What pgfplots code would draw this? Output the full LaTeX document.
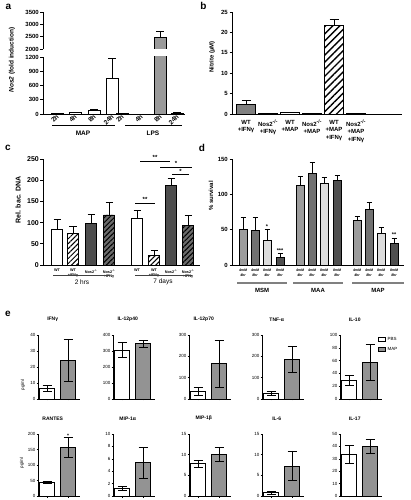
\documentclass[border=0pt]{standalone}
\usepackage{fontspec}
\setmainfont{Liberation Sans}
\usepackage{pgfplots}
\pgfplotsset{compat=1.18}
\usetikzlibrary{patterns,patterns.meta}
\newcommand{\fs}[1]{\fontsize{#1}{#1}\selectfont}
\definecolor{lpsgray}{HTML}{9A9A9A}
\definecolor{bgray}{HTML}{808080}
\definecolor{cdark}{HTML}{4D4D4D}
\definecolor{cdarkh}{HTML}{6A6A6A}
\definecolor{dA}{HTML}{9C9C9C}
\definecolor{dB}{HTML}{717171}
\definecolor{dC}{HTML}{DCDCDC}
\definecolor{dD}{HTML}{4F4F4F}
\definecolor{egray}{HTML}{939393}
\pgfplotsset{
  base/.style={scale only axis, anchor=south west, clip mode=individual,
    axis lines=left, axis line style={-, line width=0.9pt, black},
    every tick/.style={black, line width=0.8pt},
    tick align=outside, major tick length=2.5pt,
    /pgf/number format/assume math mode=true,
    /pgf/number format/1000 sep={}, scaled ticks=false,
    yticklabel style={font=\bfseries\fs{6}, inner sep=1.5pt}},
  bb/.style={ybar, bar shift=0pt, draw=black, line width=0.9pt},
  ep/.style={/pgfplots/error bars/y dir=plus, /pgfplots/error bars/y explicit,
    /pgfplots/error bars/error bar style={line width=0.9pt, black},
    /pgfplots/error bars/error mark options={rotate=90, line width=0.9pt, black, mark size=#1}},
  ebw/.style={ybar, bar shift=0pt, draw=black, line width=0.6pt, bar width=15,
    /pgfplots/error bars/y dir=both, /pgfplots/error bars/y explicit,
    /pgfplots/error bars/error bar style={line width=0.6pt, black},
    /pgfplots/error bars/error mark options={rotate=90, line width=0.6pt, black, mark size=4.5pt}},
  eax/.style={base, width=42pt, axis line style={-, line width=0.5pt, black},
    every tick/.style={black, line width=0.5pt}, major tick length=1.5pt,
    yticklabel style={font=\fs{4.5}, inner sep=1pt}, xticklabels={,,}, ymin=0,
    title style={at={(0.35,1)}, anchor=south, yshift=3.5pt, font=\bfseries\fs{5}}},
}
\begin{document}
\begin{tikzpicture}[x=1pt,y=1pt]
\useasboundingbox (0,0) rectangle (410,500);
% ---------------- panel a ----------------
\begin{axis}[base, at={(43pt,386pt)}, width=142pt, height=57pt,
  xmin=43, xmax=185, ymin=0, ymax=1200, ytick={0,300,600,900,1200},
  xtick={57,75,94,112,122,141,160,177},
  xticklabels={2h,4h,8h,24h,2h,4h,8h,24h},
  xtick style={draw=none},
  xticklabel style={rotate=45, anchor=east, inner sep=1pt, xshift=2pt, font=\bfseries\fs{6.5}}]
\addplot[bb, bar width=12, fill=white, ep=4pt] coordinates {(57,6) +- (0,5) (75,22) +- (0,10) (94,70) +- (0,28) (112,750) +- (0,420)};
\addplot[bb, bar width=12, fill=lpsgray] coordinates {(122,3)};
\addplot[bb, bar width=12, fill=lpsgray, ep=4pt] coordinates {(160,2450) +- (0,250) (177,15) +- (0,8)};
\end{axis}
\begin{axis}[base, at={(43pt,451pt)}, width=142pt, height=37pt,
  xmin=43, xmax=185, ymin=2000, ymax=3500, ytick={2000,2500,3000,3500},
  axis x line=none, xtick=\empty]
\addplot[bb, bar width=12, fill=lpsgray, ep=4pt] coordinates {(160,2450) +- (0,250)};
\end{axis}
\node[font=\bfseries\fs{10}] at (8.5,493) {a};
\node[rotate=90, font=\bfseries\fs{6.5}] at (12,440) {\textit{Nos2} (fold induction)};
\draw[line width=0.8pt] (52,375) -- (115,375);
\draw[line width=0.8pt] (125,375) -- (182,375);
\node[font=\bfseries\fs{6.5}] at (83,367) {MAP};
\node[font=\bfseries\fs{6.5}] at (153,367) {LPS};
% ---------------- panel b ----------------
\begin{axis}[base, at={(232pt,386pt)}, width=170pt, height=102pt,
  xmin=232, xmax=402, ymin=0, ymax=25, ytick={0,5,10,15,20,25},
  xtick={246,268,290,312,334,356}, xtick style={draw=none},
  xticklabels={{WT\\+IFNγ},{Nos2\textsuperscript{-/-}\\+IFNγ},{WT\\+MAP},{Nos2\textsuperscript{-/-}\\+MAP},{WT\\+MAP\\+IFNγ},{Nos2\textsuperscript{-/-}\\+MAP\\+IFNγ}},
  xticklabel style={align=center, anchor=north, font=\bfseries\fontsize{6}{7.5}\selectfont}]
\addplot[bb, bar width=19, fill=bgray, ep=4.5pt] coordinates {(246,2.3) +- (0,0.9)};
\addplot[bb, bar width=19, fill=white] coordinates {(268,0.06) (312,0.05)};
\addplot[bb, bar width=19, fill=white, ep=4.5pt] coordinates {(290,0.3) +- (0,0.15) (356,0.15) +- (0,0.08)};
\addplot[bb, bar width=19, fill=white, postaction={pattern={Lines[angle=45,distance=5pt,line width=1.4pt]}}, ep=4.5pt] coordinates {(334,21.6) +- (0,1.6)};
\end{axis}
\node[font=\bfseries\fs{10}] at (203.5,494) {b};
\node[rotate=90, font=\bfseries\fs{6}] at (212,443) {Nitrite (µM)};
% ---------------- panel c ----------------
\begin{axis}[base, at={(43pt,235pt)}, width=157pt, height=106pt,
  xmin=43, xmax=200, ymin=0, ymax=250, ytick={0,50,100,150,200,250},
  yticklabel style={font=\bfseries\fs{7}},
  xtick={57,73,91,109,137,154,171,188}, xtick style={draw=none},
  xticklabels={{WT},{WT\\+IFNγ},{Nos2\textsuperscript{-/-}},{Nos2\textsuperscript{-/-}\\+IFNγ},{WT},{WT\\+IFNγ},{Nos2\textsuperscript{-/-}},{Nos2\textsuperscript{-/-}\\+IFNγ}},
  xticklabel style={align=center, anchor=north, inner sep=1.5pt, font=\bfseries\fontsize{3.8}{4.6}\selectfont}]
\addplot[bb, bar width=11, fill=white, ep=3.5pt] coordinates {(57,85) +- (0,22) (137,109) +- (0,19)};
\addplot[bb, bar width=11, fill=white, postaction={pattern={Lines[angle=45,distance=3.5pt,line width=1pt]}}, ep=3.5pt] coordinates {(73,75) +- (0,16) (154,22) +- (0,13)};
\addplot[bb, bar width=11, fill=cdark, ep=3.5pt] coordinates {(91,98) +- (0,22) (171,187) +- (0,18)};
\addplot[bb, bar width=11, fill=cdarkh, postaction={pattern={Lines[angle=45,distance=3.5pt,line width=1pt]}}, ep=3.5pt] coordinates {(109,118) +- (0,29) (188,94) +- (0,23)};
\draw[line width=0.7pt] (axis cs:135,146) -- (axis cs:155,146) node[midway, above, inner sep=1pt, font=\bfseries\fs{6}] {**};
\draw[line width=0.7pt] (axis cs:140,245) -- (axis cs:170,245) node[midway, above, inner sep=1pt, font=\bfseries\fs{6}] {**};
\draw[line width=0.7pt] (axis cs:160,231) -- (axis cs:192,231) node[midway, above, inner sep=1pt, font=\bfseries\fs{6}] {*};
\draw[line width=0.7pt] (axis cs:172,213) -- (axis cs:189,213) node[midway, above, inner sep=1pt, font=\bfseries\fs{6}] {*};
\end{axis}
\node[font=\bfseries\fs{10}] at (8,352) {c};
\node[rotate=90, font=\bfseries\fs{7}] at (18,300) {Rel. bac. DNA};
\draw[line width=0.8pt, black!75] (53,225) -- (110,225);
\draw[line width=0.8pt, black!75] (135,225) -- (192,225);
\node[font=\fs{6.5}] at (82,218) {2 hrs};
\node[font=\fs{6.5}] at (163,218) {7 days};
% ---------------- panel d ----------------
\begin{axis}[base, at={(232pt,235pt)}, width=172pt, height=106pt,
  xmin=232, xmax=404, ymin=0, ymax=150, ytick={0,50,100,150},
  xtick={243,255,267,280,300,312,324,337,357,369,381,394}, xtick style={draw=none},
  xticklabels={{4mM\\4hr},{4mM\\8hr},{8mM\\4hr},{8mM\\8hr},{4mM\\4hr},{4mM\\8hr},{8mM\\4hr},{8mM\\8hr},{4mM\\4hr},{4mM\\8hr},{8mM\\4hr},{8mM\\8hr}},
  xticklabel style={align=center, anchor=north, inner sep=1.5pt, font=\bfseries\itshape\fontsize{3.5}{4.5}\selectfont}]
\addplot[bb, bar width=8, fill=dA, ep=2.5pt] coordinates {(243,50) +- (0,17) (300,113) +- (0,12) (357,63) +- (0,6)};
\addplot[bb, bar width=8, fill=dB, ep=2.5pt] coordinates {(255,49) +- (0,18) (312,130) +- (0,15) (369,78) +- (0,10)};
\addplot[bb, bar width=8, fill=dC, ep=2.5pt] coordinates {(267,35) +- (0,15) (324,116) +- (0,8) (381,44) +- (0,9)};
\addplot[bb, bar width=8, fill=dD, ep=2.5pt] coordinates {(280,10) +- (0,6) (337,119) +- (0,8) (394,30) +- (0,8)};
\node[anchor=south, inner sep=1pt, font=\bfseries\fs{5.5}] at (axis cs:267,50) {*};
\node[anchor=south, inner sep=1pt, font=\bfseries\fs{5.5}] at (axis cs:280,16) {***};
\node[anchor=south, inner sep=1pt, font=\bfseries\fs{5.5}] at (axis cs:394,38) {**};
\end{axis}
\node[font=\bfseries\fs{10}] at (202,352) {d};
\node[rotate=90, font=\bfseries\fs{6}] at (211,304) {\% survival};
\draw[line width=1.5pt, black!50] (237,217) -- (287,217);
\draw[line width=1.5pt, black!50] (293,217) -- (343,217);
\draw[line width=1.5pt, black!50] (352,217) -- (404,217);
\node[font=\bfseries\fs{6}] at (262,210) {MSM};
\node[font=\bfseries\fs{6}] at (318,210) {MAA};
\node[font=\bfseries\fs{6}] at (378,210) {MAP};
% ---------------- panel e ----------------
\node[font=\bfseries\fs{10}] at (8,186) {e};
% row 1
\begin{axis}[eax, at={(38pt,101pt)}, height=64pt, xmin=38, xmax=80, ymax=40, ytick={0,10,20,30,40}, xtick={47,68}, title={IFNγ}]
\addplot[ebw, fill=white] coordinates {(47,6.5) +- (0,2)};
\addplot[ebw, fill=egray] coordinates {(68,24) +- (0,13)};
\end{axis}
\begin{axis}[eax, at={(113pt,101pt)}, height=64pt, xmin=113, xmax=155, ymax=400, ytick={0,100,200,300,400}, xtick={122,143}, title={IL-12p40}]
\addplot[ebw, fill=white] coordinates {(122,305) +- (0,47)};
\addplot[ebw, fill=egray] coordinates {(143,345) +- (0,22)};
\end{axis}
\begin{axis}[eax, at={(189pt,101pt)}, height=64pt, xmin=189, xmax=231, ymax=300, ytick={0,100,200,300}, xtick={198,219}, title={IL-12p70}]
\addplot[ebw, fill=white] coordinates {(198,37) +- (0,19)};
\addplot[ebw, fill=egray] coordinates {(219,165) +- (0,110)};
\end{axis}
\begin{axis}[eax, at={(262pt,101pt)}, height=64pt, xmin=262, xmax=304, ymax=300, ytick={0,100,200,300}, xtick={271,292}, title={TNF-α}]
\addplot[ebw, fill=white] coordinates {(271,28) +- (0,9)};
\addplot[ebw, fill=egray] coordinates {(292,185) +- (0,62)};
\end{axis}
\begin{axis}[eax, at={(340pt,101pt)}, height=64pt, xmin=340, xmax=382, ymax=100, ytick={0,20,40,60,80,100}, xtick={349,370}, title={IL-10},
  legend style={at={(0.9,1.0)}, anchor=north west, draw=none, fill=none, inner sep=0pt, font=\fs{4.5}, row sep=1.5pt},
  legend cell align=left,
  legend image code/.code={\draw[#1, line width=0.6pt] (0pt,-2pt) rectangle (7pt,2pt);}]
\addplot[ebw, fill=white] coordinates {(349,29) +- (0,8)};
\addlegendentry{PBS}
\addplot[ebw, fill=egray] coordinates {(370,57) +- (0,28)};
\addlegendentry{MAP}
\end{axis}
\node[rotate=90, font=\fs{4.5}] at (23,115) {pg/ml};
% row 2
\begin{axis}[eax, at={(38pt,4pt)}, height=62pt, xmin=38, xmax=80, ymax=200, ytick={0,50,100,150,200}, xtick={47,68}, title={RANTES}]
\addplot[ebw, fill=white] coordinates {(47,45) +- (0,2.5)};
\addplot[ebw, fill=egray] coordinates {(68,157) +- (0,31)};
\node[anchor=south, inner sep=0.5pt, font=\bfseries\fs{5}] at (axis cs:68,188) {*};
\end{axis}
\begin{axis}[eax, at={(113pt,4pt)}, height=62pt, xmin=113, xmax=155, ymax=10, ytick={0,2,4,6,8,10}, xtick={122,143}, title={MIP-1α}]
\addplot[ebw, fill=white] coordinates {(122,1.2) +- (0,0.3)};
\addplot[ebw, fill=egray] coordinates {(143,5.4) +- (0,2.5)};
\end{axis}
\begin{axis}[eax, at={(189pt,4pt)}, height=62pt, xmin=189, xmax=231, ymax=15, ytick={0,5,10,15}, xtick={198,219}, title={MIP-1β}]
\addplot[ebw, fill=white] coordinates {(198,7.8) +- (0,0.8)};
\addplot[ebw, fill=egray] coordinates {(219,10) +- (0,1.7)};
\end{axis}
\begin{axis}[eax, at={(262pt,4pt)}, height=62pt, xmin=262, xmax=304, ymax=15, ytick={0,5,10,15}, xtick={271,292}, title={IL-6}]
\addplot[ebw, fill=white] coordinates {(271,0.8) +- (0,0.3)};
\addplot[ebw, fill=egray] coordinates {(292,7.3) +- (0,3.6)};
\end{axis}
\begin{axis}[eax, at={(340pt,4pt)}, height=62pt, xmin=340, xmax=382, ymax=50, ytick={0,10,20,30,40,50}, xtick={349,370}, title={IL-17}]
\addplot[ebw, fill=white] coordinates {(349,33.5) +- (0,7.5)};
\addplot[ebw, fill=egray] coordinates {(370,40) +- (0,5.5)};
\end{axis}
\node[rotate=90, font=\fs{4.5}] at (22,37) {pg/ml};
\end{tikzpicture}
\end{document}
